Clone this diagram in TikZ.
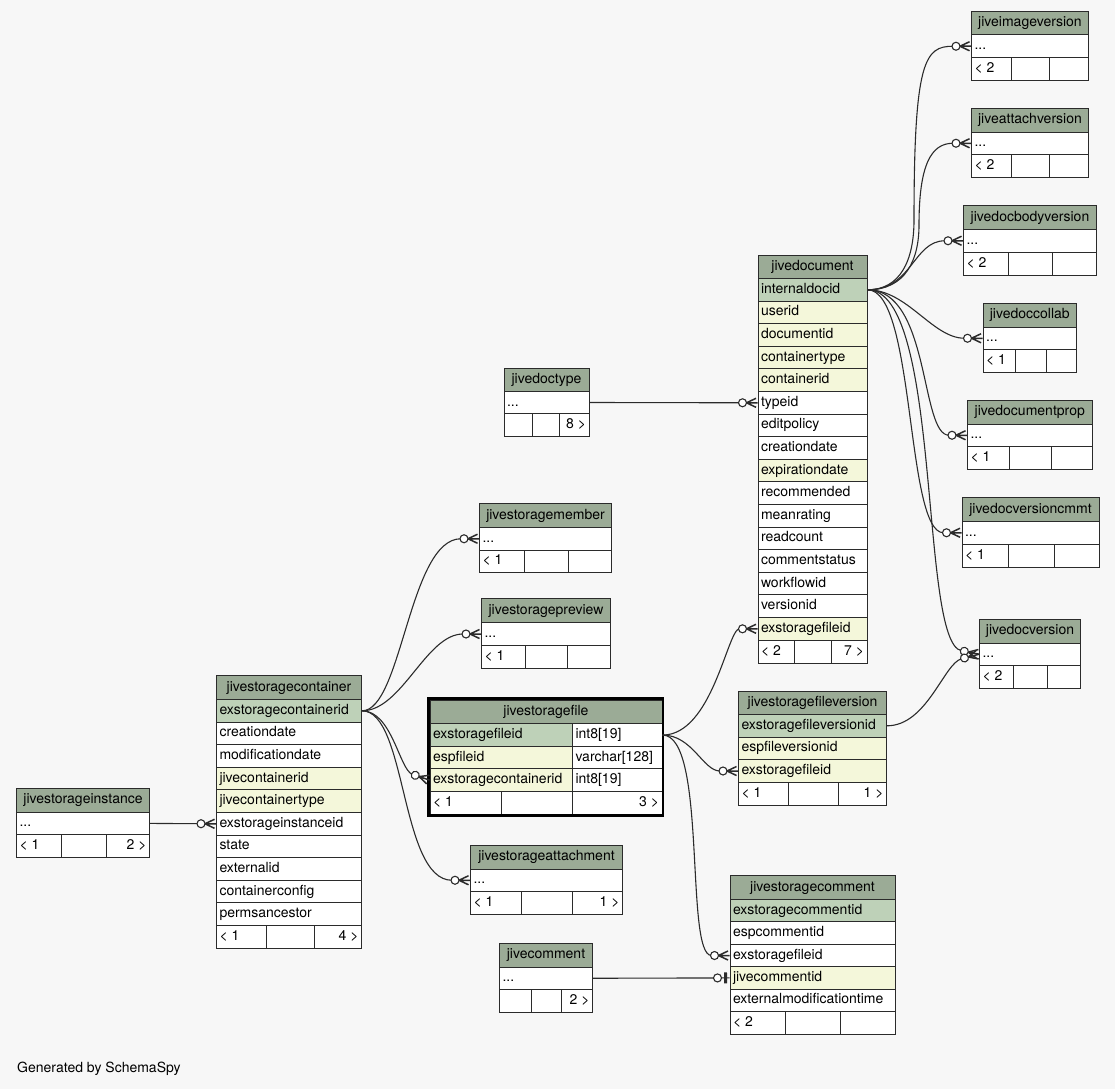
\documentclass[tikz,border=0pt]{standalone}
\usepackage{fontspec}
\setmainfont{TeX Gyre Heros}
\usetikzlibrary{arrows.meta}
\definecolor{hdrc}{HTML}{9BAB96}
\definecolor{pkc}{HTML}{BED1B8}
\definecolor{fkc}{HTML}{F4F7DA}
\definecolor{bgc}{HTML}{F7F7F7}
\definecolor{linec}{HTML}{2B2B2B}
\pgfdeclarearrow{
  name=CrowODot,
  setup code={
    \pgfarrowssettipend{0pt}
    \pgfarrowssetlineend{-18pt}
    \pgfarrowssetbackend{-19.5pt}
    \pgfarrowssetvisualbackend{-19.5pt}
    \pgfarrowshullpoint{0pt}{5pt}
    \pgfarrowshullpoint{0pt}{-5pt}
    \pgfarrowshullpoint{-19.5pt}{0pt}
  },
  drawing code={
    \pgfsetdash{}{0pt}
    \pgfsetmiterjoin
    \pgfsetlinewidth{1.5pt}
    \pgfpathmoveto{\pgfqpoint{-1.5pt}{4.5pt}}
    \pgfpathlineto{\pgfqpoint{-11pt}{0pt}}
    \pgfpathlineto{\pgfqpoint{-1.5pt}{-4.5pt}}
    \pgfpathmoveto{\pgfqpoint{-11.5pt}{0pt}}
    \pgfpathlineto{\pgfqpoint{0pt}{0pt}}
    \pgfusepathqstroke
    \pgfsetlinewidth{1.1pt}
    \pgfsetfillcolor{white}
    \pgfpathcircle{\pgfqpoint{-15pt}{0pt}}{4pt}
    \pgfusepathqfillstroke
  }
}
\pgfdeclarearrow{
  name=TeeODot,
  setup code={
    \pgfarrowssettipend{0pt}
    \pgfarrowssetlineend{-15pt}
    \pgfarrowssetbackend{-16.5pt}
    \pgfarrowssetvisualbackend{-16.5pt}
    \pgfarrowshullpoint{0pt}{5.5pt}
    \pgfarrowshullpoint{0pt}{-5.5pt}
    \pgfarrowshullpoint{-16.5pt}{0pt}
  },
  drawing code={
    \pgfsetdash{}{0pt}
    \pgfpathmoveto{\pgfqpoint{-8pt}{0pt}}
    \pgfpathlineto{\pgfqpoint{0pt}{0pt}}
    \pgfusepathqstroke
    \pgfpathrectangle{\pgfqpoint{-5.3pt}{-5.5pt}}{\pgfqpoint{2.8pt}{11pt}}
    \pgfusepathqfill
    \pgfsetfillcolor{white}
    \pgfpathcircle{\pgfqpoint{-12pt}{0pt}}{4pt}
    \pgfusepathqfillstroke
  }
}
% header cell, left cell, right cell
\newcommand\hd[6]{\node[cellbox,fill=hdrc,minimum height=#5pt] (#1) at (#2,#3) {\makebox[#4pt][c]{#6}};}
\newcommand\rw[7]{\node[cellbox,fill=#6,minimum height=#5pt] (#1) at (#2,#3) {\makebox[#4pt][l]{\hspace{3pt}#7}};}
\newcommand\rr[7]{\node[cellbox,fill=#6,minimum height=#5pt] (#1) at (#2,#3) {\makebox[#4pt][r]{#7\hspace{3pt}}};}
\begin{document}
\begin{tikzpicture}[x=1pt,y=-1pt,
  cellbox/.style={draw=linec,line width=1pt,inner sep=0pt,anchor=north west,
    text height=10pt,text depth=3pt,font=\fontsize{14}{16}\selectfont},
  conn/.style={draw=linec,line width=1.1pt},
  crowend/.style={-{CrowODot}},
  teeend/.style={-{TeeODot}}]
\useasboundingbox (0,0) rectangle (1115,1089);
\fill[bgc] (0,0) rectangle (1115,1089);

% jiveimageversion
\hd{iv}{971}{11}{117}{23.5}{jiveimageversion}
\rw{iv-r}{971}{34.5}{117}{22.5}{white}{...}
\rw{iv-f1}{971}{57}{40}{23}{white}{< 2}
\rw{iv-f2}{1011}{57}{38}{23}{white}{}
\rw{iv-f3}{1049}{57}{39}{23}{white}{}
% jiveattachversion
\hd{av}{971}{108}{117}{23.5}{jiveattachversion}
\rw{av-r}{971}{131.5}{117}{22.5}{white}{...}
\rw{av-f1}{971}{154}{40}{23}{white}{< 2}
\rw{av-f2}{1011}{154}{38}{23}{white}{}
\rw{av-f3}{1049}{154}{39}{23}{white}{}
% jivedocbodyversion
\hd{dbv}{963}{205}{133}{24}{jivedocbodyversion}
\rw{dbv-r}{963}{229}{133}{22.5}{white}{...}
\rw{dbv-f1}{963}{251.5}{45}{23}{white}{< 2}
\rw{dbv-f2}{1008}{251.5}{44}{23}{white}{}
\rw{dbv-f3}{1052}{251.5}{44}{23}{white}{}
% jivedoccollab
\hd{dc}{982.5}{303}{93.5}{23.5}{jivedoccollab}
\rw{dc-r}{982.5}{326.5}{93.5}{22.5}{white}{...}
\rw{dc-f1}{982.5}{349}{32.5}{23}{white}{< 1}
\rw{dc-f2}{1015}{349}{30.5}{23}{white}{}
\rw{dc-f3}{1045.5}{349}{30.5}{23}{white}{}
% jivedocumentprop
\hd{dp}{967}{400}{124.5}{23.5}{jivedocumentprop}
\rw{dp-r}{967}{423.5}{124.5}{22.5}{white}{...}
\rw{dp-f1}{967}{446}{42}{23}{white}{< 1}
\rw{dp-f2}{1009}{446}{42}{23}{white}{}
\rw{dp-f3}{1051}{446}{40.5}{23}{white}{}
% jivedocversioncmmt
\hd{dvc}{961.5}{497}{137}{24}{jivedocversioncmmt}
\rw{dvc-r}{961.5}{521}{137}{22.5}{white}{...}
\rw{dvc-f1}{961.5}{543.5}{46.5}{23}{white}{< 1}
\rw{dvc-f2}{1008}{543.5}{45.5}{23}{white}{}
\rw{dvc-f3}{1053.5}{543.5}{45}{23}{white}{}
% jivedocversion
\hd{dv}{979}{619}{101}{23.5}{jivedocversion}
\rw{dv-r}{979}{642.5}{101}{22.5}{white}{...}
\rw{dv-f1}{979}{665}{34}{23}{white}{< 2}
\rw{dv-f2}{1013}{665}{34}{23}{white}{}
\rw{dv-f3}{1047}{665}{33}{23}{white}{}
% jivedocument
\hd{jd}{757.5}{255}{109}{23}{jivedocument}
\foreach \n/\t/\c [count=\i from 0] in {pk/internaldocid/pkc, userid/userid/fkc,
  documentid/documentid/fkc, containertype/containertype/fkc, containerid/containerid/fkc,
  typeid/typeid/white, editpolicy/editpolicy/white, creationdate/creationdate/white,
  expirationdate/expirationdate/fkc, recommended/recommended/white, meanrating/meanrating/white,
  readcount/readcount/white, commentstatus/commentstatus/white, workflowid/workflowid/white,
  versionid/versionid/white, exfile/exstoragefileid/fkc}
  {\rw{jd-\n}{757.5}{278+22.6*\i}{109}{22.6}{\c}{\t}}
\rw{jd-f1}{757.5}{639.6}{36.5}{23}{white}{< 2}
\rw{jd-f2}{794}{639.6}{36.5}{23}{white}{}
\rr{jd-f3}{830.5}{639.6}{36}{23}{white}{7 >}
% jivedoctype
\hd{dt}{503.5}{367.5}{85}{23.5}{jivedoctype}
\rw{dt-r}{503.5}{391}{85}{22}{white}{...}
\rw{dt-f1}{503.5}{413}{28}{22.5}{white}{}
\rw{dt-f2}{531.5}{413}{27.5}{22.5}{white}{}
\rr{dt-f3}{559}{413}{29.5}{22.5}{white}{8 >}
% jivestoragemember
\hd{sm}{479}{503}{132}{24}{jivestoragemember}
\rw{sm-r}{479}{527}{132}{22.5}{white}{...}
\rw{sm-f1}{479}{549.5}{45}{22.5}{white}{< 1}
\rw{sm-f2}{524}{549.5}{44}{22.5}{white}{}
\rw{sm-f3}{568}{549.5}{43}{22.5}{white}{}
% jivestoragepreview
\hd{sp}{481}{598}{129}{24}{jivestoragepreview}
\rw{sp-r}{481}{622}{129}{23}{white}{...}
\rw{sp-f1}{481}{645}{44}{23}{white}{< 1}
\rw{sp-f2}{525}{645}{42}{23}{white}{}
\rw{sp-f3}{567}{645}{43}{23}{white}{}
% jivestoragefile
\hd{sf}{429.5}{700}{232}{23.3}{jivestoragefile}
\rw{sf-pk}{429.5}{723.3}{142.5}{22.5}{pkc}{exstoragefileid}
\rw{sf-pkt}{572}{723.3}{89.5}{22.5}{white}{int8[19]}
\rw{sf-esp}{429.5}{745.8}{142.5}{22.5}{fkc}{espfileid}
\rw{sf-espt}{572}{745.8}{89.5}{22.5}{white}{varchar[128]}
\rw{sf-cont}{429.5}{768.3}{142.5}{22.5}{fkc}{exstoragecontainerid}
\rw{sf-contt}{572}{768.3}{89.5}{22.5}{white}{int8[19]}
\rw{sf-f1}{429.5}{790.8}{71.5}{23}{white}{< 1}
\rw{sf-f2}{501}{790.8}{71}{23}{white}{}
\rr{sf-f3}{572}{790.8}{89.5}{23}{white}{3 >}
\draw[line width=2.6pt,black] (428.2,698.7) rectangle (662.8,815.2);
% jivestoragefileversion
\hd{sfv}{738}{691}{148}{23}{jivestoragefileversion}
\rw{sfv-pk}{738}{714}{148}{22.6}{pkc}{exstoragefileversionid}
\rw{sfv-esp}{738}{736.6}{148}{22.6}{fkc}{espfileversionid}
\rw{sfv-exfile}{738}{759.2}{148}{22.6}{fkc}{exstoragefileid}
\rw{sfv-f1}{738}{781.8}{50}{23.2}{white}{< 1}
\rw{sfv-f2}{788}{781.8}{50}{23.2}{white}{}
\rr{sfv-f3}{838}{781.8}{48}{23.2}{white}{1 >}
% jivestorageattachment
\hd{sa}{470}{845}{152}{23.5}{jivestorageattachment}
\rw{sa-r}{470}{868.5}{152}{22.5}{white}{...}
\rw{sa-f1}{470}{891}{51}{22.5}{white}{< 1}
\rw{sa-f2}{521}{891}{51}{22.5}{white}{}
\rr{sa-f3}{572}{891}{50}{22.5}{white}{1 >}
% jivestoragecomment
\hd{sc}{729.5}{875}{165}{24}{jivestoragecomment}
\rw{sc-pk}{729.5}{899}{165}{22.4}{pkc}{exstoragecommentid}
\rw{sc-esp}{729.5}{921.4}{165}{22.4}{white}{espcommentid}
\rw{sc-exfile}{729.5}{943.8}{165}{22.4}{white}{exstoragefileid}
\rw{sc-jcid}{729.5}{966.2}{165}{22.4}{fkc}{jivecommentid}
\rw{sc-ext}{729.5}{988.6}{165}{22.4}{white}{externalmodificationtime}
\rw{sc-f1}{729.5}{1011}{55.5}{23}{white}{< 2}
\rw{sc-f2}{785}{1011}{55}{23}{white}{}
\rw{sc-f3}{840}{1011}{54.5}{23}{white}{}
% jivecomment
\hd{jc}{499}{943}{93}{23.5}{jivecomment}
\rw{jc-r}{499}{966.5}{93}{22.5}{white}{...}
\rw{jc-f1}{499}{989}{32}{22.5}{white}{}
\rw{jc-f2}{531}{989}{30}{22.5}{white}{}
\rr{jc-f3}{561}{989}{31}{22.5}{white}{2 >}
% jivestoragecontainer
\hd{stc}{216}{675}{145}{24}{jivestoragecontainer}
\foreach \n/\t/\c [count=\i from 0] in {pk/exstoragecontainerid/pkc,
  cdate/creationdate/white, mdate/modificationdate/white, jcid/jivecontainerid/fkc,
  jctype/jivecontainertype/fkc, exinst/exstorageinstanceid/white, state/state/white,
  extid/externalid/white, cconf/containerconfig/white, perms/permsancestor/white}
  {\rw{stc-\n}{216}{699+22.6*\i}{145}{22.6}{\c}{\t}}
\rw{stc-f1}{216}{925}{49.5}{22.7}{white}{< 1}
\rw{stc-f2}{265.5}{925}{48}{22.7}{white}{}
\rr{stc-f3}{313.5}{925}{47.5}{22.7}{white}{4 >}
% jivestorageinstance
\hd{si}{16}{787.5}{133}{24}{jivestorageinstance}
\rw{si-r}{16}{811.5}{133}{22.8}{white}{...}
\rw{si-f1}{16}{834.3}{45}{23}{white}{< 1}
\rw{si-f2}{61}{834.3}{44.5}{23}{white}{}
\rr{si-f3}{105.5}{834.3}{43.5}{23}{white}{2 >}

% connectors
\draw[conn,crowend] (jd-pk.east) .. controls +(33,0) and +(0,40) .. (914,220) .. controls +(0,-160) and +(-46,0) .. (iv-r.west);
\draw[conn,crowend] (jd-pk.east) .. controls +(38,0) and +(0,35) .. (919,225) .. controls +(0,-60) and +(-40,0) .. (av-r.west);
\draw[conn,crowend] (jd-pk.east) .. controls +(45,0) and +(-50,0) .. (dbv-r.west);
\draw[conn,crowend] (jd-pk.east) .. controls +(40,0) and +(-50,0) .. (dc-r.west);
\draw[conn,crowend] (jd-pk.east) .. controls +(63,0) and +(-47,0) .. (dp-r.west);
\draw[conn,crowend] (jd-pk.east) .. controls +(48,0) and +(-56,0) .. (dvc-r.west);
\draw[conn,crowend] (jd-pk.east) .. controls +(75,0) and +(-60,-12) .. (dv-r.west);
\draw[conn,crowend] (sfv-pk.east) .. controls +(40,0) and +(-35,9) .. (dv-r.west);
\draw[conn,crowend] (dt-r.east) -- (jd-typeid.west);
\draw[conn,crowend] (sf-pkt.east) .. controls +(50,0) and +(-30,0) .. (jd-exfile.west);
\draw[conn,crowend] (sf-pkt.east) .. controls +(30,0) and +(-35,0) .. (sfv-exfile.west);
\draw[conn,crowend] (sf-pkt.east) .. controls +(45,0) and +(-45,0) .. (sc-exfile.west);
\draw[conn,crowend] (stc-pk.east) .. controls +(40,0) and +(-70,0) .. (sm-r.west);
\draw[conn,crowend] (stc-pk.east) .. controls +(40,0) and +(-55,0) .. (sp-r.west);
\draw[conn,crowend] (stc-pk.east) .. controls +(30,0) and +(-30,-10) .. (sf-cont.west);
\draw[conn,crowend] (stc-pk.east) .. controls +(45,0) and +(-70,0) .. (sa-r.west);
\draw[conn,crowend] (si-r.east) -- (stc-exinst.west);
\draw[conn,teeend] (jc-r.east) -- (sc-jcid.west);

\node[anchor=west,inner sep=0pt,font=\fontsize{14}{16}\selectfont] (gen) at (17,1069) {Generated by SchemaSpy};
\end{tikzpicture}
\end{document}
